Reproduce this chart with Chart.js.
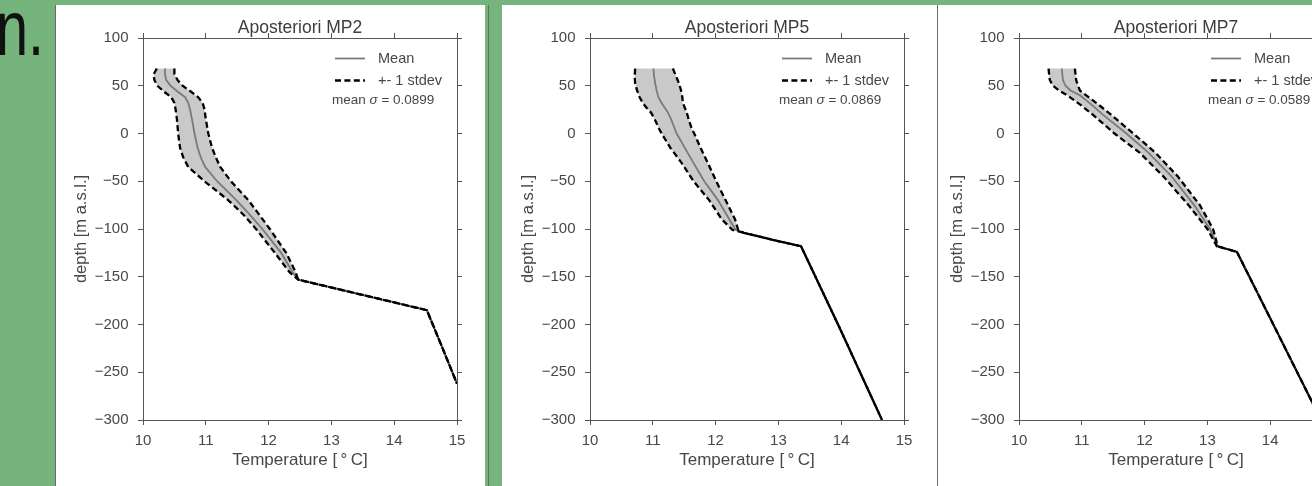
<!DOCTYPE html>
<html>
<head>
<meta charset="utf-8">
<script src="https://cdn.jsdelivr.net/npm/chart.js@4/dist/chart.umd.min.js"></script>
<style>
html,body{margin:0;padding:0;width:1312px;height:486px;overflow:hidden;background:#76b47e;position:relative;font-family:"Liberation Sans",Arial,sans-serif;}
.panel{position:absolute;background:#fff;top:5px;height:481px;}
.vline{position:absolute;top:5px;height:481px;width:1px;background:#6a6a6a;}
.chart{position:absolute;top:0;width:440px;height:486px;}
#word{position:absolute;left:-4px;top:-10px;font-size:77px;line-height:1;color:#111;transform:scaleX(0.75);transform-origin:0 0;white-space:nowrap;}
</style>
</head>
<body>
<div id="word">n.</div>
<div class="panel" style="left:56px;width:429px"></div>
<div class="vline" style="left:55px"></div>
<div class="vline" style="left:488px"></div>
<div class="panel" style="left:502px;width:810px"></div>
<div class="vline" style="left:937px"></div>
<div class="chart" style="left:55px"><canvas id="c1" width="440" height="486"></canvas></div>
<div class="chart" style="left:502px"><canvas id="c2" width="440" height="486"></canvas></div>
<div class="chart" style="left:931px"><canvas id="c3" width="440" height="486"></canvas></div>
<script>
// ---------- axis / text ----------
const xMin = 10, xMax = 15, xStep = 1;
const yMin = -300, yMax = 100, yStep = 50;
const xLabel = 'Temperature [\u2009\u00b0\u2009C]';
const yLabel = 'depth [m a.s.l.]';
const titles = ['Aposteriori MP2', 'Aposteriori MP5', 'Aposteriori MP7'];
const sigmaValues = ['0.0899', '0.0869', '0.0589'];
const legendLabels = ['Mean', '+- 1 stdev'];

// ---------- MP2 ----------
const mp2Depth = [68, 62, 56, 50, 44, 38, 32, 25, 15, 0, -15, -25, -35, -50, -70, -85, -100, -125, -145, -153, -170, -185, -220, -262];
const mp2Mean  = [10.35, 10.35, 10.37, 10.44, 10.55, 10.67, 10.72, 10.75, 10.78, 10.82, 10.87, 10.92, 10.99, 11.18, 11.49, 11.70, 11.90, 12.20, 12.38, 12.47, 13.56, 14.52, 14.74, 15.00];
const mp2Low   = [10.22, 10.17, 10.18, 10.23, 10.33, 10.45, 10.50, 10.52, 10.54, 10.56, 10.59, 10.64, 10.72, 10.98, 11.36, 11.60, 11.80, 12.10, 12.33, 12.47, 13.56, 14.52, 14.74, 15.00];
const mp2High  = [10.50, 10.50, 10.55, 10.63, 10.76, 10.88, 10.95, 10.98, 11.00, 11.04, 11.10, 11.16, 11.23, 11.40, 11.68, 11.85, 12.02, 12.28, 12.43, 12.47, 13.56, 14.52, 14.74, 15.00];

// ---------- MP5 ----------
const mp5Depth = [68, 60, 52, 45, 38, 32, 27, 22, 15, 5, 0, -15, -30, -50, -70, -90, -101, -104, -112, -118, -200, -300];
const mp5Mean  = [11.01, 11.02, 11.04, 11.06, 11.09, 11.14, 11.19, 11.24, 11.29, 11.35, 11.38, 11.51, 11.64, 11.82, 12.04, 12.22, 12.32, 12.45, 12.95, 13.36, 13.95, 14.65];
const mp5Low   = [10.72, 10.71, 10.72, 10.75, 10.79, 10.84, 10.90, 10.97, 11.03, 11.10, 11.14, 11.28, 11.45, 11.65, 11.90, 12.10, 12.27, 12.45, 12.95, 13.36, 13.95, 14.65];
const mp5High  = [11.32, 11.37, 11.42, 11.45, 11.47, 11.48, 11.51, 11.54, 11.57, 11.62, 11.66, 11.76, 11.87, 12.01, 12.16, 12.31, 12.36, 12.45, 12.95, 13.36, 13.95, 14.65];

// ---------- MP7 ----------
const mp7Depth = [68, 56, 50, 45, 40, 30, 20, 0, -20, -45, -75, -100, -112, -118, -124, -200, -300];
const mp7Mean  = [10.68, 10.70, 10.74, 10.82, 10.97, 11.16, 11.33, 11.71, 12.06, 12.43, 12.79, 13.04, 13.12, 13.16, 13.47, 14.05, 14.81];
const mp7Low   = [10.47, 10.49, 10.54, 10.64, 10.77, 10.98, 11.17, 11.52, 11.92, 12.30, 12.70, 13.00, 13.10, 13.15, 13.47, 14.05, 14.81];
const mp7High  = [10.89, 10.91, 10.94, 10.97, 11.07, 11.27, 11.46, 11.82, 12.17, 12.53, 12.88, 13.09, 13.14, 13.16, 13.47, 14.05, 14.81];

// ---------- styles ----------
const FONT = '"Liberation Sans", Arial, sans-serif';
const textColor = '#474747';
const axisColor = '#555555';
const bandColor = '#c9c9c9';
const meanColor = '#7a7a7a';
const sdColor = '#000000';
const sdDash = [6, 3.4];

Chart.defaults.font.family = FONT;
Chart.defaults.color = textColor;

const toPts = (temps, depth) => temps.map((t, i) => ({x: t, y: depth[i]}));
const minusFmt = v => String(v).replace('-', '\u2212');

const insideLegend = {
  id: 'insideLegend',
  afterDraw(chart, args, opts) {
    const {ctx, chartArea: ca} = chart;
    const ds = chart.data.datasets;
    const meanDs = ds[2], sdDs = ds[0];
    const x0 = ca.right - 122, x1 = ca.right - 92, tx = ca.right - 79;
    const y1 = ca.top + 20.5, y2 = ca.top + 42.5, y3 = ca.top + 62.5;
    ctx.save();
    ctx.lineCap = 'butt';
    ctx.beginPath();
    ctx.strokeStyle = meanDs.borderColor; ctx.lineWidth = meanDs.borderWidth;
    ctx.moveTo(x0, y1); ctx.lineTo(x1, y1); ctx.stroke();
    ctx.beginPath();
    ctx.setLineDash(sdDs.borderDash);
    ctx.strokeStyle = sdDs.borderColor; ctx.lineWidth = sdDs.borderWidth;
    ctx.moveTo(x0, y2); ctx.lineTo(x1, y2); ctx.stroke();
    ctx.setLineDash([]);
    ctx.fillStyle = textColor; ctx.textBaseline = 'middle'; ctx.textAlign = 'left';
    ctx.font = '14.5px ' + FONT;
    ctx.fillText(meanDs.label, tx, y1);
    ctx.fillText(sdDs.label, tx, y2);
    let x = ca.right - 125;
    ctx.font = '13.5px ' + FONT;
    ctx.fillText('mean ', x, y3); x += ctx.measureText('mean ').width;
    ctx.font = 'italic 13.5px ' + FONT;
    ctx.fillText('\u03c3', x, y3); x += ctx.measureText('\u03c3').width;
    ctx.font = '13.5px ' + FONT;
    ctx.fillText(' = ' + opts.sigma, x, y3);
    ctx.restore();
  }
};

function makeChart(id, title, sigma, depth, mean, low, high) {
  const lowPts = toPts(low, depth), highPts = toPts(high, depth);
  const band = lowPts.concat(highPts.slice().reverse());
  const common = {pointRadius: 0, pointHoverRadius: 0, tension: 0, spanGaps: true};
  const gridCommon = {drawOnChartArea: false, drawTicks: true, tickLength: 5, color: axisColor, tickColor: axisColor, tickWidth: 1};
  const borderCommon = {display: true, color: axisColor, width: 1};
  new Chart(document.getElementById(id), {
    type: 'line',
    data: {
      datasets: [
        Object.assign({label: legendLabels[1], data: lowPts, borderColor: sdColor, borderWidth: 2.3, borderDash: sdDash, fill: false}, common),
        Object.assign({label: legendLabels[1], data: highPts, borderColor: sdColor, borderWidth: 2.3, borderDash: sdDash, fill: false}, common),
        Object.assign({label: legendLabels[0], data: toPts(mean, depth), borderColor: meanColor, borderWidth: 1.8, fill: false}, common),
        Object.assign({label: 'band', data: band, borderColor: 'rgba(0,0,0,0)', borderWidth: 0, backgroundColor: bandColor, fill: 'shape'}, common)
      ]
    },
    options: {
      responsive: false,
      animation: false,
      events: [],
      layout: {padding: {top: 0, left: 0, right: 38, bottom: 0}},
      plugins: {
        legend: {display: false},
        tooltip: {enabled: false},
        title: {display: true, text: title, fullSize: false, color: '#3d3d3d', font: {size: 17.5, weight: 'normal'}, padding: {top: 17.7, bottom: -0.7}},
        insideLegend: {sigma: sigma}
      },
      scales: {
        x: {
          type: 'linear', position: 'bottom', min: xMin, max: xMax,
          ticks: {stepSize: xStep, padding: 7, color: textColor, font: {size: 15}, callback: minusFmt},
          grid: gridCommon, border: borderCommon,
          title: {display: true, text: xLabel, color: textColor, font: {size: 17}, padding: {top: 0, bottom: 15.8}},
          afterFit: s => { s.height = 66; }
        },
        x2: {
          type: 'linear', position: 'top', min: xMin, max: xMax,
          ticks: {stepSize: xStep, display: false},
          grid: gridCommon, border: borderCommon,
          afterFit: s => { s.height = 0; }
        },
        y: {
          type: 'linear', position: 'left', min: yMin, max: yMax,
          ticks: {stepSize: yStep, padding: 9.5, color: textColor, font: {size: 15}, callback: minusFmt},
          grid: gridCommon, border: borderCommon,
          title: {display: true, text: yLabel, color: textColor, font: {size: 16.5}, padding: {top: 17, bottom: 0}},
          afterFit: s => { s.width = 88; }
        },
        y2: {
          type: 'linear', position: 'right', min: yMin, max: yMax,
          ticks: {stepSize: yStep, display: false},
          grid: gridCommon, border: borderCommon,
          afterFit: s => { s.width = 0; }
        }
      }
    },
    plugins: [insideLegend]
  });
}

makeChart('c1', titles[0], sigmaValues[0], mp2Depth, mp2Mean, mp2Low, mp2High);
makeChart('c2', titles[1], sigmaValues[1], mp5Depth, mp5Mean, mp5Low, mp5High);
makeChart('c3', titles[2], sigmaValues[2], mp7Depth, mp7Mean, mp7Low, mp7High);
</script>
</body>
</html>
